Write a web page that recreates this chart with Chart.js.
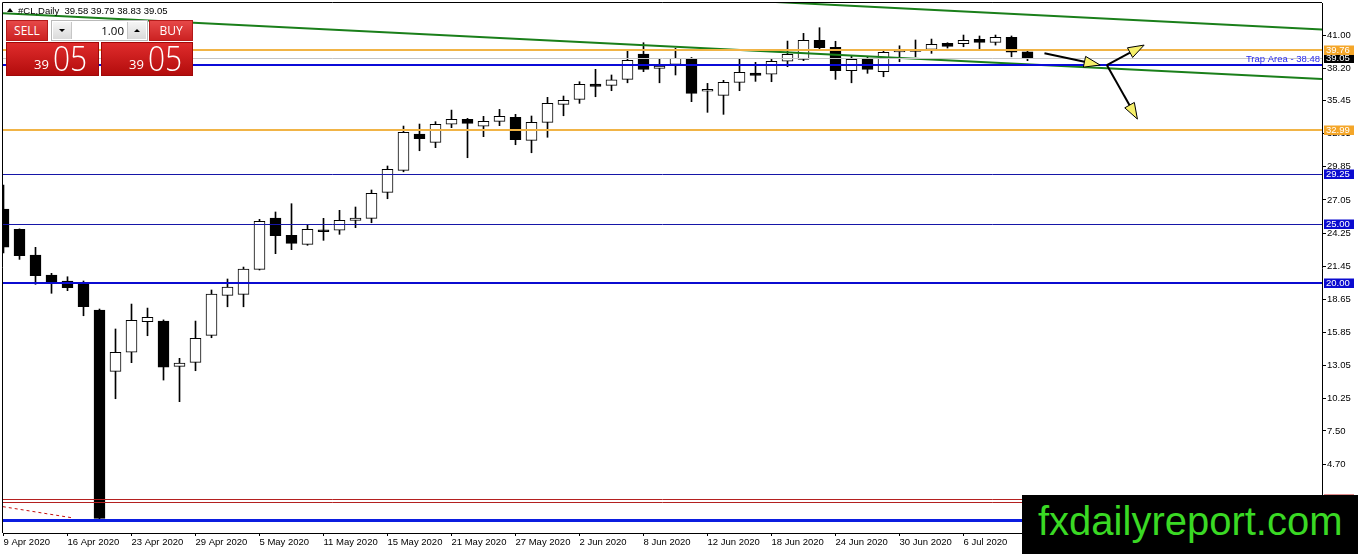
<!DOCTYPE html>
<html>
<head>
<meta charset="utf-8">
<script src="https://cdn.jsdelivr.net/npm/chart.js@4.4.1/dist/chart.umd.min.js"></script>
<style>
html, body { margin: 0; padding: 0; background: #fff; }
#wrap { position: relative; width: 1362px; height: 554px; overflow: hidden; }
#c { position: absolute; left: 0; top: 0; }
#title { position: absolute; left: 18px; top: 4px; font: 9.5px "Liberation Sans", Arial, sans-serif; color: #000; line-height: 13px; white-space: pre; }
#title .tri { position: absolute; left: -11px; top: 4px; width: 0; height: 0; border-left: 3px solid transparent; border-right: 3px solid transparent; border-bottom: 4px solid #000; }
.pb { position: absolute; box-sizing: border-box; color: #fff; font-family: "Open Sans", sans-serif; }
.btn { top: 20px; height: 21px; background: linear-gradient(#e64848, #cc2222); border: 1px solid #b31a1a; font-size: 12px; line-height: 19px; text-align: center; }
#sell { left: 6px; width: 42px; }
#buy { left: 149px; width: 44px; }
#lot { left: 51px; top: 20px; width: 97px; height: 21px; background: #fff; border: 1px solid #b9b9b9; }
#lot .dn, #lot .up { position: absolute; top: 1px; width: 18px; height: 17px; background: linear-gradient(#f5f5f5, #dadada); }
#lot .dn { left: 1px; border-right: 1px solid #c6c6c6; }
#lot .up { right: 1px; border-left: 1px solid #c6c6c6; }
#lot .dn::after, #lot .up::after { content: ""; position: absolute; left: 6px; top: 7px; width: 0; height: 0; border-left: 3px solid transparent; border-right: 3px solid transparent; }
#lot .dn::after { border-top: 3px solid #000; }
#lot .up::after { border-bottom: 3px solid #000; }
#lot .val { position: absolute; right: 23px; top: 0; line-height: 19px; font-size: 11.5px; color: #000; }
.big { top: 42px; height: 34px; background: linear-gradient(#df2c2c, #b30c0c); border: 1px solid #a10808; }
#bidbox { left: 6px; width: 93px; }
#askbox { left: 101px; width: 92px; }
.big .sm { position: absolute; font-size: 13px; left: 27px; top: 13px; line-height: 16px; }
.big .lg { position: absolute; font-size: 34px; font-weight: 300; left: 46px; top: -5px; line-height: 40px; display: inline-block; transform: scaleX(0.88); transform-origin: left center; }
#mark { position: absolute; left: 1022px; top: 495px; width: 336px; height: 59px; box-sizing: border-box; background: #000; color: #3ad924; font: 40px "Liberation Sans", Arial, sans-serif; line-height: 40px; padding: 6px 0 0 16px; white-space: nowrap; }
</style>
</head>
<body>
<div id="wrap">
  <canvas id="c" width="1362" height="554"></canvas>
  <div id="title"><span class="tri"></span>#CL,Daily  39.58 39.79 38.83 39.05</div>
  <div class="pb btn" id="sell">SELL</div>
  <div class="pb" id="lot"><span class="dn"></span><span class="val">1.00</span><span class="up"></span></div>
  <div class="pb btn" id="buy">BUY</div>
  <div class="pb big" id="bidbox"><span class="sm">39</span><span class="lg">05</span></div>
  <div class="pb big" id="askbox"><span class="sm">39</span><span class="lg">05</span></div>
  <div id="mark">fxdailyreport.com</div>
</div>
<script>
// daily bars, #CL
const dates = ['9 Apr 2020', '13 Apr 2020', '14 Apr 2020', '15 Apr 2020', '16 Apr 2020', '17 Apr 2020',
    '20 Apr 2020', '21 Apr 2020', '23 Apr 2020', '24 Apr 2020', '27 Apr 2020', '28 Apr 2020', '29 Apr 2020',
    '30 Apr 2020', '1 May 2020', '4 May 2020', '5 May 2020', '6 May 2020', '7 May 2020', '8 May 2020',
    '11 May 2020', '12 May 2020', '13 May 2020', '14 May 2020', '15 May 2020', '18 May 2020', '19 May 2020',
    '20 May 2020', '21 May 2020', '22 May 2020', '25 May 2020', '26 May 2020', '27 May 2020', '28 May 2020',
    '29 May 2020', '1 Jun 2020', '2 Jun 2020', '3 Jun 2020', '4 Jun 2020', '5 Jun 2020', '8 Jun 2020',
    '9 Jun 2020', '10 Jun 2020', '11 Jun 2020', '12 Jun 2020', '15 Jun 2020', '16 Jun 2020', '17 Jun 2020',
    '18 Jun 2020', '19 Jun 2020', '22 Jun 2020', '23 Jun 2020', '24 Jun 2020', '25 Jun 2020', '26 Jun 2020',
    '29 Jun 2020', '30 Jun 2020', '1 Jul 2020', '2 Jul 2020', '3 Jul 2020', '6 Jul 2020', '7 Jul 2020',
    '8 Jul 2020', '9 Jul 2020', '10 Jul 2020'];

const opens = [26.28, 24.56, 22.39, 20.70, 20.19, 20.04, 17.73, 12.55, 14.16, 16.74,
    16.80, 12.97, 13.31, 15.59, 18.98, 19.06, 21.18, 25.52, 24.05, 23.29,
    24.50, 24.48, 25.32, 25.49, 27.69, 29.55, 32.62, 31.92, 33.45, 33.87,
    33.28, 33.70, 34.04, 32.09, 33.61, 35.14, 35.56, 36.85, 36.74, 37.25,
    39.39, 38.18, 38.52, 39.03, 36.24, 35.90, 37.00, 37.79, 37.68, 38.78,
    38.94, 40.55, 39.96, 37.98, 39.03, 37.90, 39.58, 39.62, 39.79, 40.30,
    40.26, 40.64, 40.38, 40.81, 39.58];
const highs = [28.31, 24.60, 23.04, 20.84, 20.55, 20.19, 17.82, 16.13, 18.24, 17.90,
    16.90, 13.65, 16.80, 19.43, 20.36, 21.37, 25.41, 26.03, 26.73, 24.93,
    25.49, 26.17, 26.45, 27.89, 29.92, 33.30, 33.47, 33.67, 34.65, 33.95,
    34.12, 34.71, 34.29, 34.15, 35.73, 35.84, 37.05, 38.10, 37.62, 39.65,
    40.35, 39.03, 39.87, 39.10, 36.91, 37.17, 39.03, 38.69, 38.94, 40.49,
    41.14, 41.62, 40.47, 39.22, 39.11, 39.65, 40.09, 40.58, 40.66, 40.35,
    41.00, 40.92, 41.00, 40.92, 39.79];
const lows = [22.56, 22.02, 19.91, 19.15, 19.37, 17.25, 0.05, 10.23, 13.28, 15.56,
    11.81, 9.98, 12.60, 15.39, 18.01, 18.01, 21.12, 22.50, 22.84, 23.21,
    23.63, 24.14, 24.70, 25.12, 27.15, 29.43, 31.21, 31.47, 33.16, 30.62,
    32.40, 33.33, 31.72, 31.04, 32.35, 34.17, 35.22, 35.78, 36.29, 36.96,
    37.90, 36.96, 37.62, 35.36, 34.46, 34.29, 36.29, 37.08, 37.05, 38.32,
    38.83, 39.79, 37.25, 36.96, 37.76, 37.47, 38.74, 39.16, 39.45, 39.90,
    40.01, 39.82, 40.15, 39.16, 38.83];
const closes = [23.06, 22.33, 20.64, 20.13, 19.62, 18.01, 0.11, 14.16, 16.86, 17.12,
    12.89, 13.25, 15.34, 19.09, 19.68, 21.20, 25.24, 24.02, 23.38, 24.56,
    24.36, 25.32, 25.52, 27.61, 29.64, 32.77, 32.23, 33.45, 33.87, 33.53,
    33.70, 34.12, 32.14, 33.61, 35.22, 35.48, 36.83, 36.66, 37.22, 38.86,
    38.10, 38.38, 39.03, 36.07, 36.41, 37.00, 37.84, 37.59, 38.78, 39.37,
    40.55, 39.93, 37.98, 38.94, 38.10, 39.54, 39.68, 39.70, 40.21, 40.04,
    40.55, 40.38, 40.81, 39.54, 39.05];

const dateTickBars = [0, 4, 8, 12, 16, 20, 24, 28, 32, 36, 40, 44, 48, 52, 56, 60];
const priceTicks = [41.00, 38.20, 35.45, 32.65, 29.85, 27.05, 24.25, 21.45, 18.65, 15.85, 13.05, 10.25, 7.50, 4.70];
const priceMin = -1.13, priceMax = 43.71;
const barMin = -0.03125, barMax = 82.40625;

// horizontal levels and their axis tags (bid tag drawn first, so the others sit over it)
const levelPrices = [39.05, 39.76, 38.48, 32.99, 29.25, 25.00, 20.00, 1.72, 1.52, 0.00];
const levelTags = ['39.05', '39.76', '', '32.99', '29.25', '25.00', '20.00', '', '', ''];
const trapPrice = 38.48;
const trapText = 'Trap Area - 38.48';

// trend lines and arrows, in [bar, price]
const upperChannel = [[47.0, 43.88], [82.41, 41.47]];
const lowerChannel = [[-0.23, 42.86], [82.41, 37.27]];
const oldTrend = [[-0.04, 1.10], [4.27, 0.16]];
const arrowFrom = [[65.06, 39.45], [68.96, 38.46], [68.96, 38.46]];
const arrowTo = [[68.54, 38.46], [71.29, 40.15], [70.87, 33.89]];

const levelLook = [
    { line: '#c6c6c6', w: 1, box: '#000000' },
    { line: '#f1b446', w: 2, box: '#f4a629' },
    { line: '#0b0bd8', w: 2 },
    { line: '#f1b446', w: 2, box: '#f4a629' },
    { line: '#1616a8', w: 1, box: '#0b0bd0' },
    { line: '#1616a8', w: 1, box: '#0b0bd0' },
    { line: '#0b0bd0', w: 2, box: '#0b0bd0' },
    { line: '#b42020', w: 1, box: '#c01818' },
    { line: '#b42020', w: 1 },
    { line: '#0b1de0', w: 3 }
];

const FONT = '"Liberation Sans", Arial, sans-serif';
Chart.defaults.font.family = FONT;
Chart.defaults.font.size = 9.5;
Chart.defaults.color = '#000';

const idx = dates.map((d, i) => i);
const toPts = arr => arr.map(p => ({ x: p[0], y: p[1] }));

const overlay = {
    id: 'overlay',
    afterDatasetsDraw(chart) {
        const { ctx, chartArea: a, scales: { x, y } } = chart;
        ctx.save();
        ctx.beginPath();
        ctx.rect(a.left, a.top, a.right - a.left, a.bottom - a.top);
        ctx.clip();
        levelPrices.forEach((p, k) => {
            const lk = levelLook[k];
            const py = Math.round(y.getPixelForValue(p)) + (lk.w % 2 ? 0.5 : 0);
            ctx.strokeStyle = lk.line;
            ctx.lineWidth = lk.w;
            ctx.beginPath();
            ctx.moveTo(a.left, py);
            ctx.lineTo(a.right, py);
            ctx.stroke();
        });

        ctx.font = '9.5px ' + FONT;
        ctx.fillStyle = '#2a2af0';
        ctx.textAlign = 'right';
        ctx.textBaseline = 'middle';
        ctx.fillText(trapText, a.right - 2, y.getPixelForValue(trapPrice) - 5.5);

        arrowFrom.forEach((f, k) => {
            const x0 = x.getPixelForValue(f[0]), y0 = y.getPixelForValue(f[1]);
            const x1 = x.getPixelForValue(arrowTo[k][0]), y1 = y.getPixelForValue(arrowTo[k][1]);
            const ang = Math.atan2(y1 - y0, x1 - x0);
            const len = 16, half = 5.5;
            const bx = x1 - len * Math.cos(ang), by = y1 - len * Math.sin(ang);
            ctx.strokeStyle = '#000';
            ctx.lineWidth = 2;
            ctx.beginPath();
            ctx.moveTo(x0, y0);
            ctx.lineTo(bx, by);
            ctx.stroke();
            ctx.beginPath();
            ctx.moveTo(x1, y1);
            ctx.lineTo(bx + half * Math.sin(ang), by - half * Math.cos(ang));
            ctx.lineTo(bx - half * Math.sin(ang), by + half * Math.cos(ang));
            ctx.closePath();
            ctx.fillStyle = '#f6ef6a';
            ctx.fill();
            ctx.lineWidth = 1;
            ctx.stroke();
        });
        ctx.restore();

        // price tags on the axis
        ctx.save();
        ctx.font = '9.5px ' + FONT;
        ctx.textAlign = 'left';
        ctx.textBaseline = 'middle';
        levelPrices.forEach((p, k) => {
            const lk = levelLook[k];
            if (!lk.box) return;
            const py = Math.round(y.getPixelForValue(p));
            ctx.fillStyle = lk.box;
            ctx.fillRect(a.right + 2, py - 4.5, 30, 9.5);
            if (levelTags[k]) {
                ctx.fillStyle = '#fff';
                ctx.fillText(levelTags[k], a.right + 4, py + 0.5);
            }
        });
        // frame, left and top
        ctx.strokeStyle = '#000';
        ctx.lineWidth = 1;
        ctx.beginPath();
        ctx.moveTo(a.left - 0.5, a.bottom);
        ctx.lineTo(a.left - 0.5, a.top - 0.5);
        ctx.lineTo(a.right, a.top - 0.5);
        ctx.stroke();
        ctx.restore();
    }
};

new Chart(document.getElementById('c'), {
    type: 'bar',
    data: {
        datasets: [
            {
                label: 'channel top',
                type: 'line',
                data: toPts(upperChannel),
                borderColor: '#1a7f1a',
                borderWidth: 2,
                pointRadius: 0,
                order: 0
            },
            {
                label: 'channel bottom',
                type: 'line',
                data: toPts(lowerChannel),
                borderColor: '#1a7f1a',
                borderWidth: 2,
                pointRadius: 0,
                order: 0
            },
            {
                label: 'old trend',
                type: 'line',
                data: toPts(oldTrend),
                borderColor: '#c41010',
                borderWidth: 1,
                borderDash: [3, 3],
                pointRadius: 0,
                order: 1
            },
            {
                label: 'body',
                data: idx.map(i => ({ x: i, y: [opens[i], closes[i]] })),
                backgroundColor: idx.map(i => closes[i] >= opens[i] ? '#fff' : '#000'),
                borderColor: '#000',
                borderWidth: 1,
                borderSkipped: false,
                barThickness: 11,
                minBarLength: 2,
                grouped: false,
                order: 2
            },
            {
                label: 'wick',
                data: idx.map(i => ({ x: i, y: [lows[i], highs[i]] })),
                backgroundColor: '#000',
                borderWidth: 0,
                barThickness: 1,
                grouped: false,
                order: 3
            }
        ]
    },
    options: {
        responsive: false,
        animation: false,
        events: [],
        layout: { padding: { left: 3, top: 3, right: 0, bottom: 0 } },
        plugins: { legend: { display: false }, tooltip: { enabled: false } },
        scales: {
            x: {
                type: 'linear',
                position: 'bottom',
                min: barMin,
                max: barMax,
                offset: false,
                grid: { offset: false, drawOnChartArea: false, color: '#000', tickLength: 3 },
                border: { display: true, color: '#000', width: 1 },
                afterBuildTicks: s => { s.ticks = dateTickBars.map(v => ({ value: v })); },
                afterFit: s => { s.height = 21; s.paddingLeft = 0; s.paddingRight = 0; },
                ticks: {
                    autoSkip: false,
                    maxRotation: 0,
                    align: 'start',
                    padding: 1,
                    callback: v => dates[v]
                }
            },
            y: {
                type: 'linear',
                position: 'right',
                min: priceMin,
                max: priceMax,
                grid: { drawOnChartArea: false, color: '#000', tickLength: 4 },
                border: { display: true, color: '#000', width: 1 },
                afterBuildTicks: s => { s.ticks = priceTicks.map(v => ({ value: v })); },
                afterFit: s => { s.width = 40; s.paddingTop = 0; s.paddingBottom = 0; },
                ticks: {
                    autoSkip: false,
                    padding: 1,
                    callback: v => v.toFixed(2)
                }
            }
        }
    },
    plugins: [overlay]
});
</script>
</body>
</html>
